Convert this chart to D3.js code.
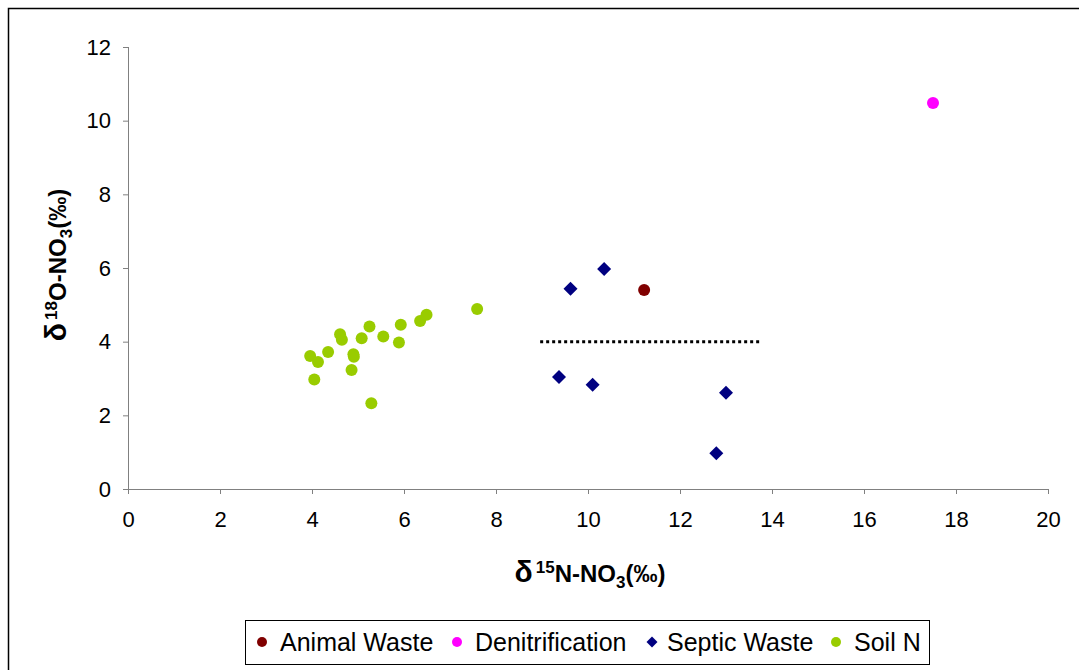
<!DOCTYPE html>
<html>
<head>
<meta charset="utf-8">
<script src="https://cdn.jsdelivr.net/npm/d3@7"></script>
<style>
  body { margin: 0; background: #fff; }
  text { font-family: "Liberation Sans", Arial, sans-serif; }
</style>
</head>
<body>
<script>
'use strict';

// series values: [d15N, d18O]
const animalWaste = [[11.22, 5.40]];
const denitrification = [[17.5, 10.48]];
const septicWaste = [
  [10.35, 5.97], [9.62, 5.44], [9.37, 3.04],
  [10.10, 2.83], [13.0, 2.61], [12.79, 0.97]
];
const soilN = [
  [3.96, 3.61], [4.13, 3.45], [4.05, 2.97], [4.35, 3.72], [4.61, 4.20],
  [4.65, 4.05], [4.86, 3.23], [4.90, 3.66], [4.91, 3.59], [5.08, 4.09],
  [5.25, 4.41], [5.29, 2.33], [5.55, 4.14], [5.89, 3.98], [5.93, 4.46],
  [6.35, 4.56], [6.49, 4.73], [7.59, 4.89]
];
// dotted reference line
const refLine = [[8.96, 4.0], [13.74, 4.0]];

const xTicks = [0, 2, 4, 6, 8, 10, 12, 14, 16, 18, 20];
const yTicks = [0, 2, 4, 6, 8, 10, 12];

const legendNames = ["Animal Waste", "Denitrification", "Septic Waste", "Soil N"];
const legendColors = ["#800000", "#ff00ff", "#000080", "#99cc00"];

const width = 1079, height = 670;

const svg = d3.select('body').append('svg')
  .attr('width', width)
  .attr('height', height);

// outer chart frame
svg.append('rect')
  .attr('x', 8.5).attr('y', 8.5)
  .attr('width', width + 10).attr('height', height + 10)
  .attr('fill', 'none').attr('stroke', '#000').attr('stroke-width', 1.5);

const xScale = d3.scaleLinear().domain([0, 20]).range([128, 1048]);
const yScale = d3.scaleLinear().domain([0, 12]).range([489, 47]);

// axes
const xAxis = d3.axisBottom(xScale).tickValues(xTicks).tickSize(5).tickPadding(17);
const gx = svg.append('g').attr('transform', 'translate(0,' + yScale(0) + ')').call(xAxis);
const yAxis = d3.axisLeft(yScale).tickValues(yTicks).tickSize(5).tickPadding(12);
const gy = svg.append('g').attr('transform', 'translate(' + xScale(0) + ',0)').call(yAxis);

[gx, gy].forEach(g => {
  g.select('.domain').attr('stroke', '#808080');
  g.selectAll('.tick line').attr('stroke', '#808080');
  g.selectAll('.tick text')
    .attr('fill', '#000')
    .style('font-size', '22px')
    .style('font-family', '"Liberation Sans", Arial, sans-serif');
});
gy.select('.domain').attr('d', 'M0.5,' + yScale(12) + 'V' + yScale(0));
gx.select('.domain').attr('d', 'M' + xScale(0) + ',0.5H' + xScale(20));

// dotted line
const line = d3.line().x(d => xScale(d[0])).y(d => yScale(d[1]));
svg.append('path')
  .datum(refLine)
  .attr('d', line)
  .attr('fill', 'none')
  .attr('stroke', '#000')
  .attr('stroke-width', 3)
  .attr('stroke-dasharray', '3,3');

// points
function drawCircles(data, color) {
  svg.append('g').selectAll('circle')
    .data(data)
    .enter()
    .append('circle')
      .attr('cx', d => xScale(d[0]))
      .attr('cy', d => yScale(d[1]))
      .attr('r', 6)
      .attr('fill', color);
}
drawCircles(soilN, legendColors[3]);
drawCircles(animalWaste, legendColors[0]);
drawCircles(denitrification, legendColors[1]);

const diamond = d3.symbol().type(d3.symbolSquare).size(98);
svg.append('g').selectAll('path')
  .data(septicWaste)
  .enter()
  .append('path')
    .attr('d', diamond)
    .attr('transform', d => 'translate(' + xScale(d[0]) + ',' + yScale(d[1]) + ') rotate(45)')
    .attr('fill', legendColors[2]);

// axis titles
function axisTitle(sel, sup, body) {
  sel.append('tspan').style('font-size', '30px').text('δ');
  sel.append('tspan').attr('dx', 3).attr('dy', -9).style('font-size', '17px').text(sup);
  sel.append('tspan').attr('dy', 9).text(body);
  sel.append('tspan').attr('dy', 6).style('font-size', '17px').text('3');
  sel.append('tspan').attr('dy', -6).text('(‰)');
}
const xTitle = svg.append('text')
  .attr('x', 590).attr('y', 582)
  .attr('text-anchor', 'middle')
  .style('font-size', '24px').style('font-weight', 'bold');
axisTitle(xTitle, '15', 'N-NO');

const yTitle = svg.append('text')
  .attr('transform', 'translate(66,265) rotate(-90)')
  .attr('text-anchor', 'middle')
  .style('font-size', '24px').style('font-weight', 'bold');
axisTitle(yTitle, '18', 'O-NO');

// legend
svg.append('rect')
  .attr('x', 245.5).attr('y', 620.5)
  .attr('width', 684).attr('height', 44)
  .attr('fill', '#fff').attr('stroke', '#000').attr('stroke-width', 1);

const legendMarkX = [262, 457, 652, 836];
legendNames.forEach((name, i) => {
  const g = svg.append('g').attr('transform', 'translate(' + legendMarkX[i] + ',642)');
  if (i === 2) {
    g.append('path')
      .attr('d', d3.symbol().type(d3.symbolSquare).size(60))
      .attr('transform', 'rotate(45)')
      .attr('fill', legendColors[i]);
  } else {
    g.append('circle').attr('r', 5).attr('fill', legendColors[i]);
  }
  g.append('text')
    .attr('x', i === 2 ? 15 : 18).attr('y', 9)
    .style('font-size', '25px')
    .text(name);
});
</script>
</body>
</html>
